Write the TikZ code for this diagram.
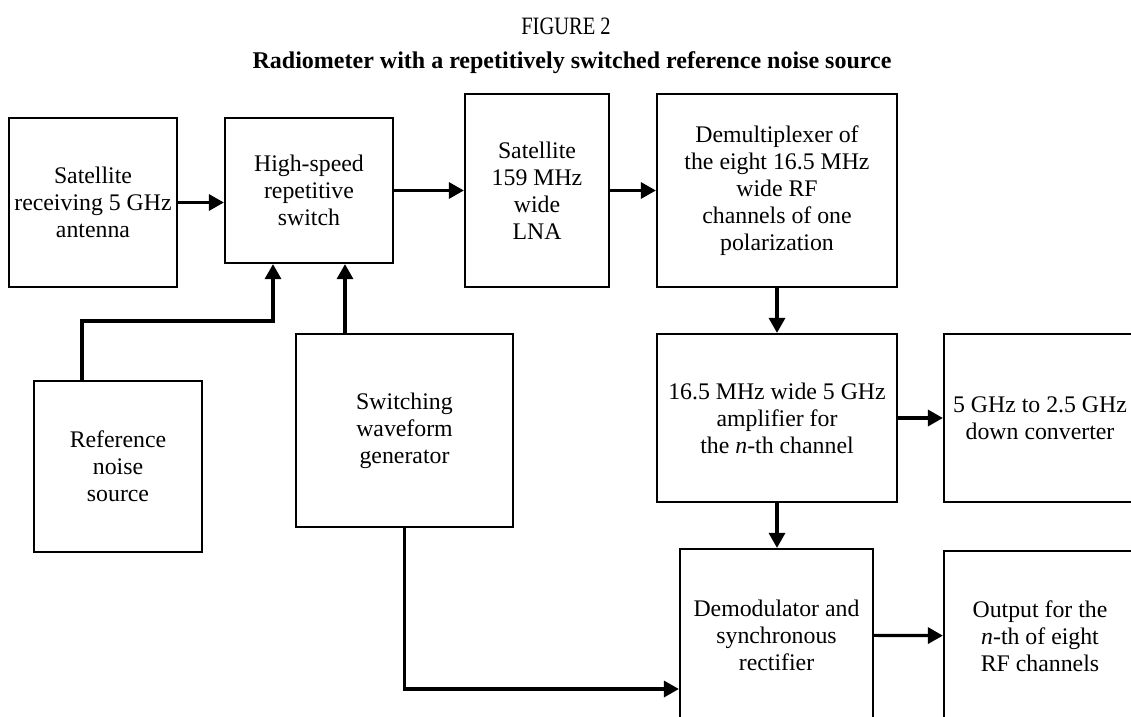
\documentclass[tikz,border=0pt]{standalone}
\usepackage{fontspec}
\setmainfont{Liberation Serif}
\newfontfamily\figfont[FakeStretch=0.82]{Liberation Serif}
\usetikzlibrary{arrows.meta}
\tikzset{
  blk/.style={draw, line width=2.2pt, align=center, inner sep=0pt,
    font=\fontsize{23.8}{27}\selectfont},
  arr/.style={line width=3.2pt, -{Triangle[length=15pt,width=16pt]}},
}
\begin{document}
\begin{tikzpicture}[x=1pt,y=-1pt]
  \clip (0,0) rectangle (1131,716);
  % titles
  \node[font=\figfont\fontsize{25}{28}\selectfont, anchor=base] (fig) at (566,34) {FIGURE 2};
  \node[font=\fontsize{24}{28}\selectfont\bfseries, anchor=base] (ttl) at (572,68)
    {Radiometer with a repetitively switched reference noise source};
  % blocks
  \node[blk, minimum width=168pt, minimum height=169pt] (ant) at (93,202.5) {Satellite\\receiving 5 GHz\\antenna};
  \node[blk, minimum width=168pt, minimum height=145pt] (sw) at (309,190.5) {High-speed\\repetitive\\switch};
  \node[blk, minimum width=144pt, minimum height=193pt] (lna) at (537,190.5) {Satellite\\159 MHz\\wide\\LNA};
  \node[blk, minimum width=240pt, minimum height=193pt] (demux) at (777,190.5)
    {Demultiplexer of\\the eight 16.5 MHz\\wide RF\\channels of one\\polarization};
  \node[blk, minimum width=240pt, minimum height=168pt] (amp) at (777,418)
    {16.5 MHz wide 5 GHz\\amplifier for\\the \textit{n}-th channel};
  \node[blk, minimum width=192pt, minimum height=168pt] (down) at (1040,418) {5 GHz to 2.5 GHz\\down converter};
  \node[blk, minimum width=168pt, minimum height=171pt] (ref) at (118,466.5) {Reference\\noise\\source};
  \node[blk, minimum width=217pt, minimum height=193pt] (gen) at (404.5,430.5) {Switching\\waveform\\generator};
  \node[blk, minimum width=193pt, minimum height=172pt] (demod) at (776.5,635) {Demodulator and\\synchronous\\rectifier};
  \node[blk, minimum width=192pt, minimum height=170pt] (out) at (1040,636)
    {Output for the\\\textit{n}-th of eight\\RF channels};
  % connectors
  \draw[arr] (ant.east) -- (sw.west |- ant.east);
  \draw[arr] (sw) -- (lna);
  \draw[arr] (lna) -- (demux);
  \draw[arr] (demux) -- (amp);
  \draw[arr] (amp) -- (down);
  \draw[arr] (amp.south) -- (amp.south |- demod.north);
  \draw[arr] (demod) -- (out);
  \draw[arr] ([xshift=-36pt]ref.north) -- ++(0,-59) -| ([xshift=-36pt]sw.south);
  \draw[arr] ([xshift=36pt]sw.south |- gen.north) -- ([xshift=36pt]sw.south);
  \draw[arr] (gen.south) |- ([yshift=-54pt]demod.west);
\end{tikzpicture}
\end{document}
